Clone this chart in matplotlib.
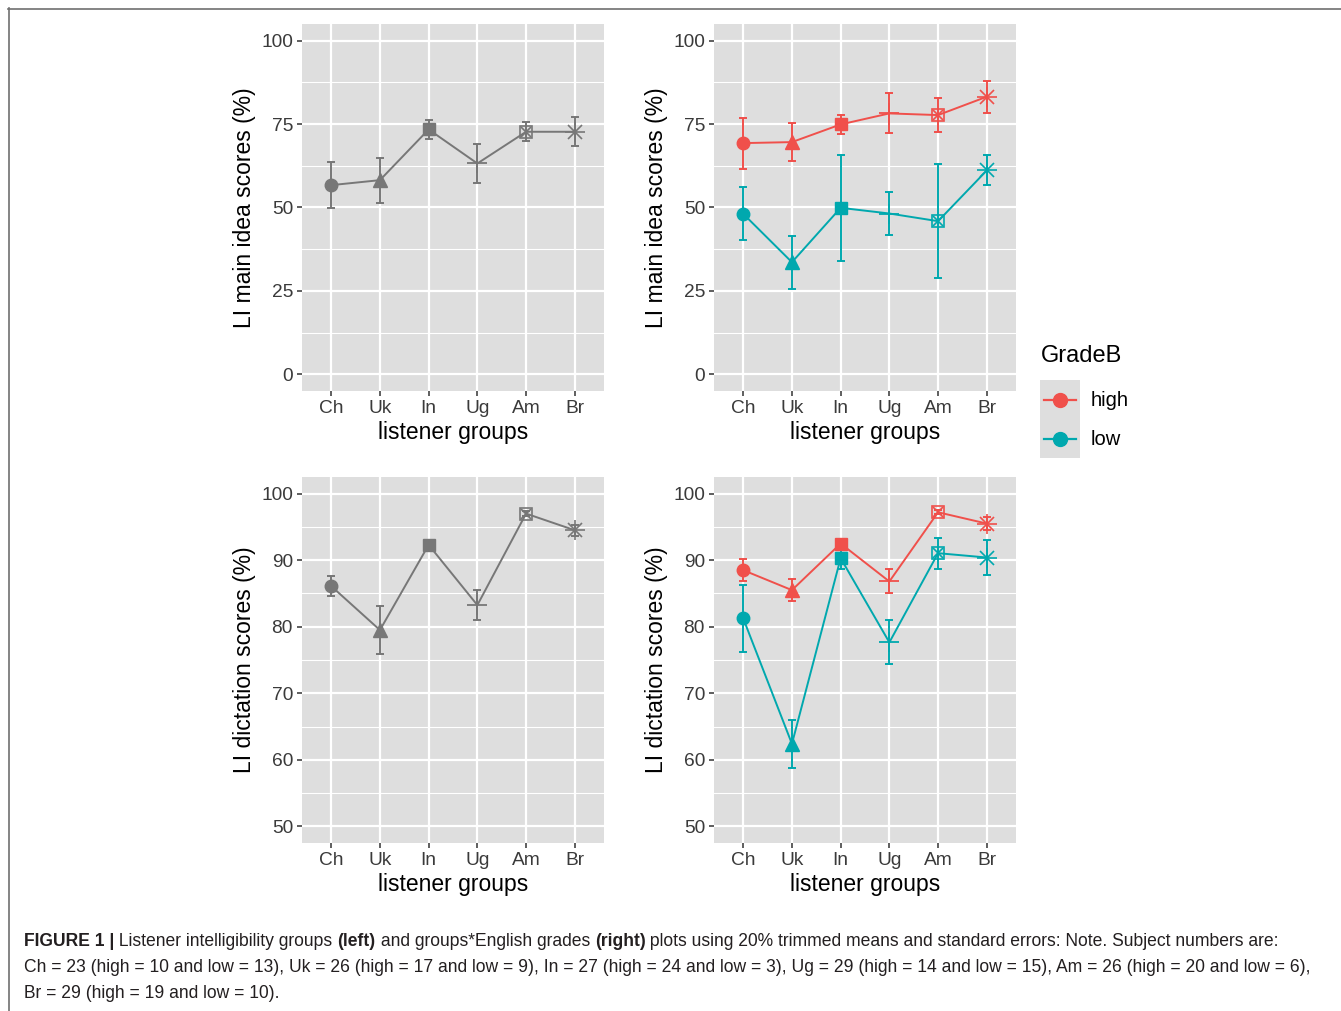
import numpy as np
import matplotlib
matplotlib.use('Agg')
import matplotlib.pyplot as plt
from matplotlib.lines import Line2D

plt.rcParams['font.family'] = ['Liberation Sans', 'DejaVu Sans']

# ---- data ----
groups = ['Ch', 'Uk', 'In', 'Ug', 'Am', 'Br']

main_all = [56.7, 58.2, 73.4, 63.2, 72.7, 72.7]
main_all_se = [6.95, 6.75, 2.75, 5.75, 2.8, 4.3]
main_high = [69.3, 69.6, 74.9, 78.2, 77.7, 83.2]
main_high_se = [7.65, 5.8, 2.8, 6.0, 5.2, 4.75]
main_low = [48.1, 33.6, 49.9, 48.2, 45.9, 61.1]
main_low_se = [7.95, 7.95, 15.95, 6.35, 17.05, 4.5]

dict_all = [86.1, 79.5, 92.3, 83.25, 97.0, 94.5]
dict_all_se = [1.45, 3.6, 0.4, 2.2, 0.4, 0.85]
dict_high = [88.5, 85.5, 92.5, 86.8, 97.2, 95.5]
dict_high_se = [1.65, 1.65, 0.3, 1.8, 0.3, 1.0]
dict_low = [81.25, 62.4, 90.3, 77.65, 91.05, 90.4]
dict_low_se = [5.05, 3.65, 1.55, 3.3, 2.3, 2.6]

grade_labels = ['high', 'low']

GREY = '#777777'
RED = '#F0504B'
TEAL = '#00A8AE'
PANEL = '#DEDEDE'

W, H = 1341, 1011
fig = plt.figure(figsize=(W / 100, H / 100), dpi=100)


def px_axes(x0, y0, x1, y1):
    return fig.add_axes([x0 / W, 1 - y1 / H, (x1 - x0) / W, (y1 - y0) / H])


def style(ax, ylim, major, minor, ylabel):
    ax.set_facecolor(PANEL)
    for s in ax.spines.values():
        s.set_visible(False)
    ax.set_xlim(0.4, 6.6)
    ax.set_ylim(*ylim)
    ax.set_xticks(range(1, 7))
    ax.set_xticklabels(groups)
    ax.set_yticks(major)
    ax.set_yticks(minor, minor=True)
    ax.grid(True, which='major', color='white', lw=1.6)
    ax.grid(True, which='minor', axis='y', color='white', lw=0.8)
    ax.set_axisbelow(True)
    ax.tick_params(which='major', length=3.5, width=1.1, color='#333333',
                   labelsize=13.8, labelcolor='#3A3A3A', pad=3)
    ax.tick_params(which='minor', length=0)
    ax.set_xlabel('listener groups', fontsize=16.5, labelpad=3)
    ax.set_ylabel(ylabel, fontsize=16.5, labelpad=4)


def draw_series(ax, vals, se, color):
    x = np.arange(1, 7)
    ax.plot(x, vals, '-', color=color, lw=1.4, zorder=3)
    ax.errorbar(x, vals, yerr=se, fmt='none', ecolor=color, elinewidth=1.4,
                capsize=3, capthick=1.4, zorder=3)
    kw = dict(color=color, zorder=4, linestyle='none')
    ax.plot(x[0], vals[0], marker='o', ms=9, **kw)
    ax.plot(x[1], vals[1], marker='^', ms=10, **kw)
    ax.plot(x[2], vals[2], marker='s', ms=8, **kw)
    ax.plot(x[3], vals[3], marker='+', ms=15, mew=1.3, **kw)
    ax.plot(x[4], vals[4], marker='s', ms=8.5, mfc='none', mew=1.2, **kw)
    ax.plot(x[4], vals[4], marker='x', ms=6.5, mew=1.2, **kw)
    ax.plot(x[5], vals[5], marker='+', ms=15, mew=1.2, **kw)
    ax.plot(x[5], vals[5], marker='x', ms=10.5, mew=1.2, **kw)


main_lim = (-5, 105)
main_major = [0, 25, 50, 75, 100]
main_minor = [12.5, 37.5, 62.5, 87.5]
dict_lim = (47.5, 102.5)
dict_major = [50, 60, 70, 80, 90, 100]
dict_minor = [55, 65, 75, 85, 95]

ax1 = px_axes(302, 24, 604, 391)
style(ax1, main_lim, main_major, main_minor, 'LI main idea scores (%)')
draw_series(ax1, main_all, main_all_se, GREY)

ax2 = px_axes(714, 24, 1016, 391)
style(ax2, main_lim, main_major, main_minor, 'LI main idea scores (%)')
draw_series(ax2, main_high, main_high_se, RED)
draw_series(ax2, main_low, main_low_se, TEAL)

ax3 = px_axes(302, 477, 604, 843)
style(ax3, dict_lim, dict_major, dict_minor, 'LI dictation scores (%)')
draw_series(ax3, dict_all, dict_all_se, GREY)

ax4 = px_axes(714, 477, 1016, 843)
style(ax4, dict_lim, dict_major, dict_minor, 'LI dictation scores (%)')
draw_series(ax4, dict_high, dict_high_se, RED)
draw_series(ax4, dict_low, dict_low_se, TEAL)

# ---- legend ----
fig.text(1041 / W, 1 - 356 / H, 'GradeB', fontsize=17, va='center', ha='left')
lax = px_axes(1040, 380, 1080, 458)
lax.set_facecolor(PANEL)
lax.set_xlim(0, 1)
lax.set_ylim(0, 2)
lax.set_xticks([])
lax.set_yticks([])
for s in lax.spines.values():
    s.set_visible(False)
for k, (lab, col) in enumerate(zip(grade_labels, [RED, TEAL])):
    yy = 1.5 - k
    lax.plot([0.1, 0.9], [yy, yy], color=col, lw=1.6)
    lax.plot([0.5], [yy], marker='o', ms=10, color=col)
    fig.text(1091 / W, 1 - (400 + 39 * k) / H, lab, fontsize=14.5,
             va='center', ha='left')

# ---- frame lines ----
fig.add_artist(Line2D([8 / W, 1], [1 - 8.5 / H, 1 - 8.5 / H], color='#707070', lw=1.2))
fig.add_artist(Line2D([8.5 / W, 8.5 / W], [0, 1 - 8 / H], color='#707070', lw=1.2))

# ---- caption ----
fig.canvas.draw()
renderer = fig.canvas.get_renderer()
CAP = 12.65
CAP_COLOR = '#231F20'


def caption_line(parts, x_px, y_px):
    x = x_px
    for txt, bold in parts:
        t = fig.text(x / W, 1 - y_px / H, txt, fontsize=CAP, color=CAP_COLOR,
                     fontweight='bold' if bold else 'normal', va='center', ha='left')
        bb = t.get_window_extent(renderer=renderer)
        x += bb.width


caption_line([('FIGURE 1 |', True), (' Listener intelligibility groups ', False),
              ('(left)', True), (' and groups*English grades ', False),
              ('(right)', True),
              (' plots using 20% trimmed means and standard errors: Note. Subject numbers are:', False)],
             24, 942)
caption_line([('Ch = 23 (high = 10 and low = 13), Uk = 26 (high = 17 and low = 9), '
               'In = 27 (high = 24 and low = 3), Ug = 29 (high = 14 and low = 15), '
               'Am = 26 (high = 20 and low = 6),', False)], 24, 968)
caption_line([('Br = 29 (high = 19 and low = 10).', False)], 24, 993)

fig.savefig('out.png', dpi=100)
